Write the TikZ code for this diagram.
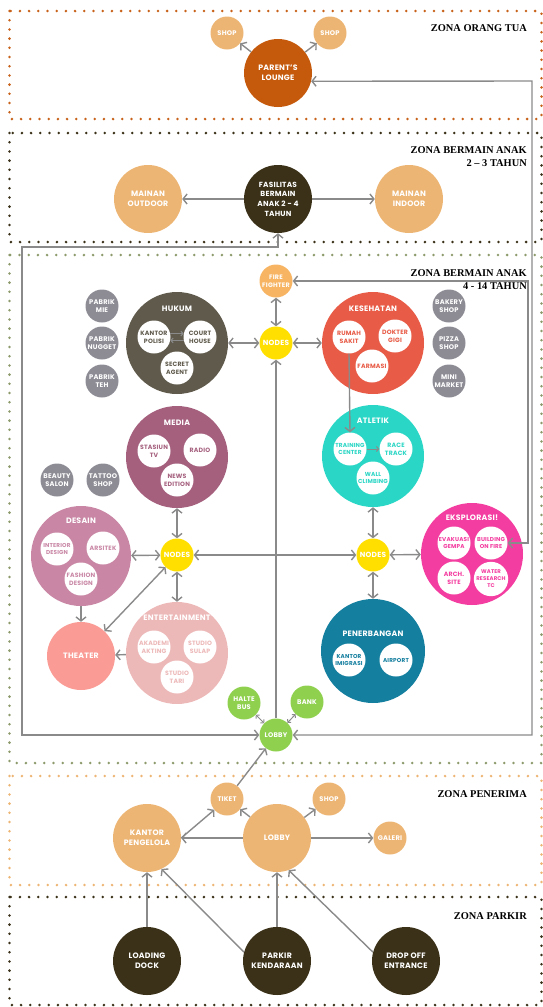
\documentclass[tikz,border=0pt]{standalone}
\usepackage{fontspec}
\usetikzlibrary{arrows.meta}
\setmainfont{Liberation Serif}
\newfontfamily\pop{Poppins}[LetterSpace=3]
\definecolor{cline}{HTML}{8A8A8A}
\definecolor{csand}{HTML}{EDB574}
\definecolor{corange}{HTML}{C65A0C}
\definecolor{cdark}{HTML}{3A3118}
\definecolor{colive}{HTML}{8D9A6B}
\definecolor{czone1}{HTML}{C8621B}
\definecolor{cfire}{HTML}{F7B462}
\definecolor{cyel}{HTML}{FFDF00}
\definecolor{cgray}{HTML}{8D8C95}
\definecolor{chukum}{HTML}{5F5A4C}
\definecolor{ckes}{HTML}{E85B46}
\definecolor{cmedia}{HTML}{A5607E}
\definecolor{catl}{HTML}{2AD6C5}
\definecolor{cdes}{HTML}{C987A5}
\definecolor{cthe}{HTML}{FA9C95}
\definecolor{cent}{HTML}{EDB8B8}
\definecolor{ceks}{HTML}{F43DA0}
\definecolor{cpen}{HTML}{157F9F}
\definecolor{cgreen}{HTML}{8FD14F}
\tikzset{
  zone/.style={line width=2.8pt, line cap=round, dash pattern=on 0pt off 9.2pt},
  bub/.style={circle, inner sep=0pt, align=center, text=white, font=\pop\bfseries\fontsize{6.7}{8}\selectfont},
  sm/.style={bub, minimum size=33pt},
  nd/.style={sm, fill=cyel, font=\pop\bfseries\fontsize{7.4}{8}\selectfont},
  md/.style={bub, minimum size=68pt, font=\pop\bfseries\fontsize{7.8}{10.2}\selectfont},
  bigc/.style={bub, minimum size=102pt},
  inn/.style={bub, fill=white, minimum size=33pt, font=\pop\bfseries\fontsize{6.2}{7.8}\selectfont},
  ttl/.style={text=white, inner sep=0pt, font=\pop\bfseries\fontsize{7.8}{9}\selectfont},
  zt/.style={anchor=east, align=right, inner sep=0pt, font=\bfseries\fontsize{10.4}{12.8}\selectfont},
  con/.style={draw=cline, line width=1.4pt},
  ar/.style={con, -{Straight Barb[length=4pt,width=10pt]}},
  dar/.style={con, {Straight Barb[length=4pt,width=10pt]}-{Straight Barb[length=4pt,width=10pt]}},
  sar/.style={draw=cline, line width=1pt, -{Straight Barb[length=2.2pt,width=5pt]}},
  sdar/.style={draw=cline, line width=1pt, {Straight Barb[length=2.2pt,width=5pt]}-{Straight Barb[length=2.2pt,width=5pt]}}
}
\begin{document}
\begin{tikzpicture}[x=1pt,y=-1pt]
\useasboundingbox (0,0) rectangle (543,1007);
% zones
\draw[zone, czone1] (9.5,11) rectangle (541.5,119);
\draw[zone, cdark] (9.5,133) rectangle (541.5,242);
\draw[zone, colive] (9.5,255) rectangle (541.5,763);
\draw[zone, csand] (9.5,776) rectangle (541.5,885);
\draw[zone, cdark] (9.5,897) rectangle (541.5,1005);
\node[zt] (z1) at (527,28) {ZONA ORANG TUA};
\node[zt] (z2) at (527,157) {ZONA BERMAIN ANAK\\2 -- 3 TAHUN};
\node[zt] (z3) at (527,279.5) {ZONA BERMAIN ANAK\\4 - 14 TAHUN};
\node[zt] (z4) at (527,794) {ZONA PENERIMA};
\node[zt] (z5) at (527,916) {ZONA PARKIR};

% zone 1
\node[sm, fill=csand] (shop1) at (227,33) {SHOP};
\node[sm, fill=csand] (shop2) at (330,33) {SHOP};
\node[md, fill=corange] (lounge) at (278,73) {PARENT’S\\LOUNGE};

% zone 2
\node[md, fill=csand] (outdoor) at (148,199) {MAINAN\\OUTDOOR};
\node[md, fill=cdark, font=\pop\bfseries\fontsize{7.4}{9.6}\selectfont] (fas) at (278,199) {FASILITAS\\BERMAIN\\ANAK 2 - 4\\TAHUN};
\node[md, fill=csand] (indoor) at (409,199) {MAINAN\\INDOOR};

% zone 3
\node[sm, fill=cfire, font=\pop\bfseries\fontsize{6.4}{8}\selectfont] (fire) at (276,281) {FIRE\\FIGHTER};
\node[nd] (nodesT) at (276,343) {NODES};
\node[sm, fill=cgray] (pmie) at (102,306) {PABRIK\\MIE};
\node[sm, fill=cgray] (pnug) at (102,343) {PABRIK\\NUGGET};
\node[sm, fill=cgray] (pteh) at (102,381) {PABRIK\\TEH};
\node[bigc, fill=chukum] (hukum) at (177,343) {};
\node[ttl] (hukumT) at (177,309) {HUKUM};
\node[inn, text=chukum] (kp) at (154,337) {KANTOR\\POLISI};
\node[inn, text=chukum] (ch) at (200,337) {COURT\\HOUSE};
\node[inn, text=chukum] (sa) at (177,368) {SECRET\\AGENT};
\node[bigc, fill=ckes] (kes) at (373,343) {};
\node[ttl] (kesT) at (373,309) {KESEHATAN};
\node[inn, text=ckes] (rs) at (349,337) {RUMAH\\SAKIT};
\node[inn, text=ckes] (dg) at (395,336) {DOKTER\\GIGI};
\node[inn, text=ckes] (fm) at (372,366) {FARMASI};
\node[sm, fill=cgray] (bakery) at (449,306) {BAKERY\\SHOP};
\node[sm, fill=cgray] (pizza) at (449,343) {PIZZA\\SHOP};
\node[sm, fill=cgray] (mini) at (449,381) {MINI\\MARKET};
\node[bigc, fill=cmedia] (media) at (177,457) {};
\node[ttl] (mediaT) at (177,423) {MEDIA};
\node[inn, text=cmedia] (tv) at (154,451) {STASIUN\\TV};
\node[inn, text=cmedia] (radio) at (200,450) {RADIO};
\node[inn, text=cmedia] (news) at (177,480) {NEWS\\EDITION};
\node[bigc, fill=catl] (atl) at (373,456) {};
\node[ttl] (atlT) at (373,421) {ATLETIK};
\node[inn, text=catl, font=\pop\bfseries\fontsize{5.8}{7.8}\selectfont] (tc) at (350,449) {TRAINING\\CENTER};
\node[inn, text=catl] (rt) at (396,449) {RACE\\TRACK};
\node[inn, text=catl, font=\pop\bfseries\fontsize{5.8}{7.8}\selectfont] (wc) at (373,478) {WALL\\CLIMBING};
\node[sm, fill=cgray] (beauty) at (57,480) {BEAUTY\\SALON};
\node[sm, fill=cgray] (tattoo) at (103,480) {TATTOO\\SHOP};
\node[bub, minimum size=100pt, fill=cdes] (desain) at (81,556) {};
\node[ttl] (desainT) at (81,521) {DESAIN};
\node[inn, text=cdes, font=\pop\bfseries\fontsize{5.7}{7.8}\selectfont] (idz) at (57,549) {INTERIOR\\DESIGN};
\node[inn, text=cdes] (ars) at (103,548) {ARSITEK};
\node[inn, text=cdes] (fd) at (81,579) {FASHION\\DESIGN};
\node[nd] (nodesL) at (177,555) {NODES};
\node[nd] (nodesR) at (373,555) {NODES};
\node[bigc, fill=ceks] (eks) at (472,554) {};
\node[ttl] (eksT) at (472,518) {EKSPLORASI!};
\node[inn, text=ceks, font=\pop\bfseries\fontsize{5.7}{7.8}\selectfont] (ev) at (454,543) {EVAKUASI\\GEMPA};
\node[inn, text=ceks, font=\pop\bfseries\fontsize{5.7}{7.8}\selectfont] (bof) at (491,543) {BUILDING\\ON FIRE};
\node[inn, text=ceks] (arch) at (454,578) {ARCH.\\SITE};
\node[inn, text=ceks, font=\pop\bfseries\fontsize{5.4}{7}\selectfont] (water) at (491,579) {WATER\\RESEARCH\\TC};
\node[md, fill=cthe] (theater) at (81,656) {THEATER};
\node[bigc, fill=cent] (ent) at (177,653) {};
\node[ttl] (entT) at (177,618) {ENTERTAINMENT};
\node[inn, text=cent] (ak) at (154,647) {AKADEMI\\AKTING};
\node[inn, text=cent] (ss) at (200,647) {STUDIO\\SULAP};
\node[inn, text=cent] (st) at (177,677) {STUDIO\\TARI};
\node[bub, minimum size=104pt, fill=cpen] (pen) at (373,651) {};
\node[ttl] (penT) at (373,634) {PENERBANGAN};
\node[inn, text=cpen, font=\pop\bfseries\fontsize{5.7}{7.8}\selectfont] (kim) at (349,660) {KANTOR\\IMIGRASI};
\node[inn, text=cpen, font=\pop\bfseries\fontsize{5.7}{7.8}\selectfont] (airport) at (396,660) {AIRPORT};
\node[sm, fill=cgreen] (halte) at (244,703) {HALTE\\BUS};
\node[sm, fill=cgreen] (bank) at (307,702) {BANK};
\node[sm, fill=cgreen] (lobby3) at (276,735) {LOBBY};

% zone 4
\node[sm, fill=csand] (tiket) at (227,799) {TIKET};
\node[sm, fill=csand] (shop4) at (329,799) {SHOP};
\node[md, fill=csand] (kantor) at (147,838) {KANTOR\\PENGELOLA};
\node[md, fill=csand] (lobby4) at (277,838) {LOBBY};
\node[sm, fill=csand] (galeri) at (390,838) {GALERI};

% zone 5
\node[md, fill=cdark] (loading) at (147,961) {LOADING\\DOCK};
\node[md, fill=cdark] (parkir) at (277,961) {PARKIR\\KENDARAAN};
\node[md, fill=cdark] (dropoff) at (406,961) {DROP OFF\\ENTRANCE};

% coordinates for loops
\coordinate (cL1) at (22,735);
\coordinate (cL2) at (22,247);
\coordinate (cL3) at (278,247);
\coordinate (cR1) at (532,735);
\coordinate (cR2) at (532,81);
\coordinate (cF1) at (528,281);
\coordinate (cF2) at (528,543);

% connectors zone 1-2
\draw[ar] (lounge) -- (shop1);
\draw[ar] (lounge) -- (shop2);
\draw[ar] (fas) -- (outdoor);
\draw[ar] (fas) -- (indoor);
\draw[dar] (lobby3.west) -- (cL1) -- (cL2) -- (cL3) -- (fas.south);
\draw[dar] (lobby3.east) -- (cR1) -- (cR2) -- (lounge.-14);
\draw[dar] (fire.east) -- (cF1) -- (cF2) -- (bof.east);

% zone 3
\draw[dar] (fire) -- (nodesT);
\draw[dar] (hukum) -- (nodesT);
\draw[dar] (nodesT) -- (kes);
\draw[sar] (kp.12) -- (ch.168);
\draw[sar] (ch.-168) -- (kp.-12);
\draw[ar] (rs.south) -- (tc.north);
\draw[sar] (tc) -- (rt);
\draw[ar] (lobby3) -- (nodesT);
\draw[dar] (media) -- (nodesL);
\draw[dar] (desain) -- (nodesL);
\draw[dar] (nodesL) -- (ent);
\draw[dar] (nodesL) -- (theater);
\draw[ar] (desain) -- (theater);
\draw[ar] (ent) -- (theater);
\draw[dar] (nodesL) -- (nodesR);
\draw[dar] (atl) -- (nodesR);
\draw[dar] (nodesR) -- (eks);
\draw[dar] (nodesR) -- (pen);
\draw[sdar] (halte) -- (lobby3);
\draw[sdar] (bank) -- (lobby3);

% zone 4-5
\draw[ar] (tiket) -- (lobby3);
\draw[ar] (kantor.east) -- (tiket);
\draw[ar] (lobby4) -- (tiket);
\draw[ar] (lobby4) -- (shop4);
\draw[ar] (lobby4) -- (galeri);
\draw[ar] (lobby4) -- (kantor);
\draw[ar] (loading) -- (kantor);
\draw[ar] (parkir.165) -- (kantor.-65);
\draw[ar] (parkir) -- (lobby4);
\draw[ar] (dropoff.165) -- (lobby4.-70);
\end{tikzpicture}
\end{document}
